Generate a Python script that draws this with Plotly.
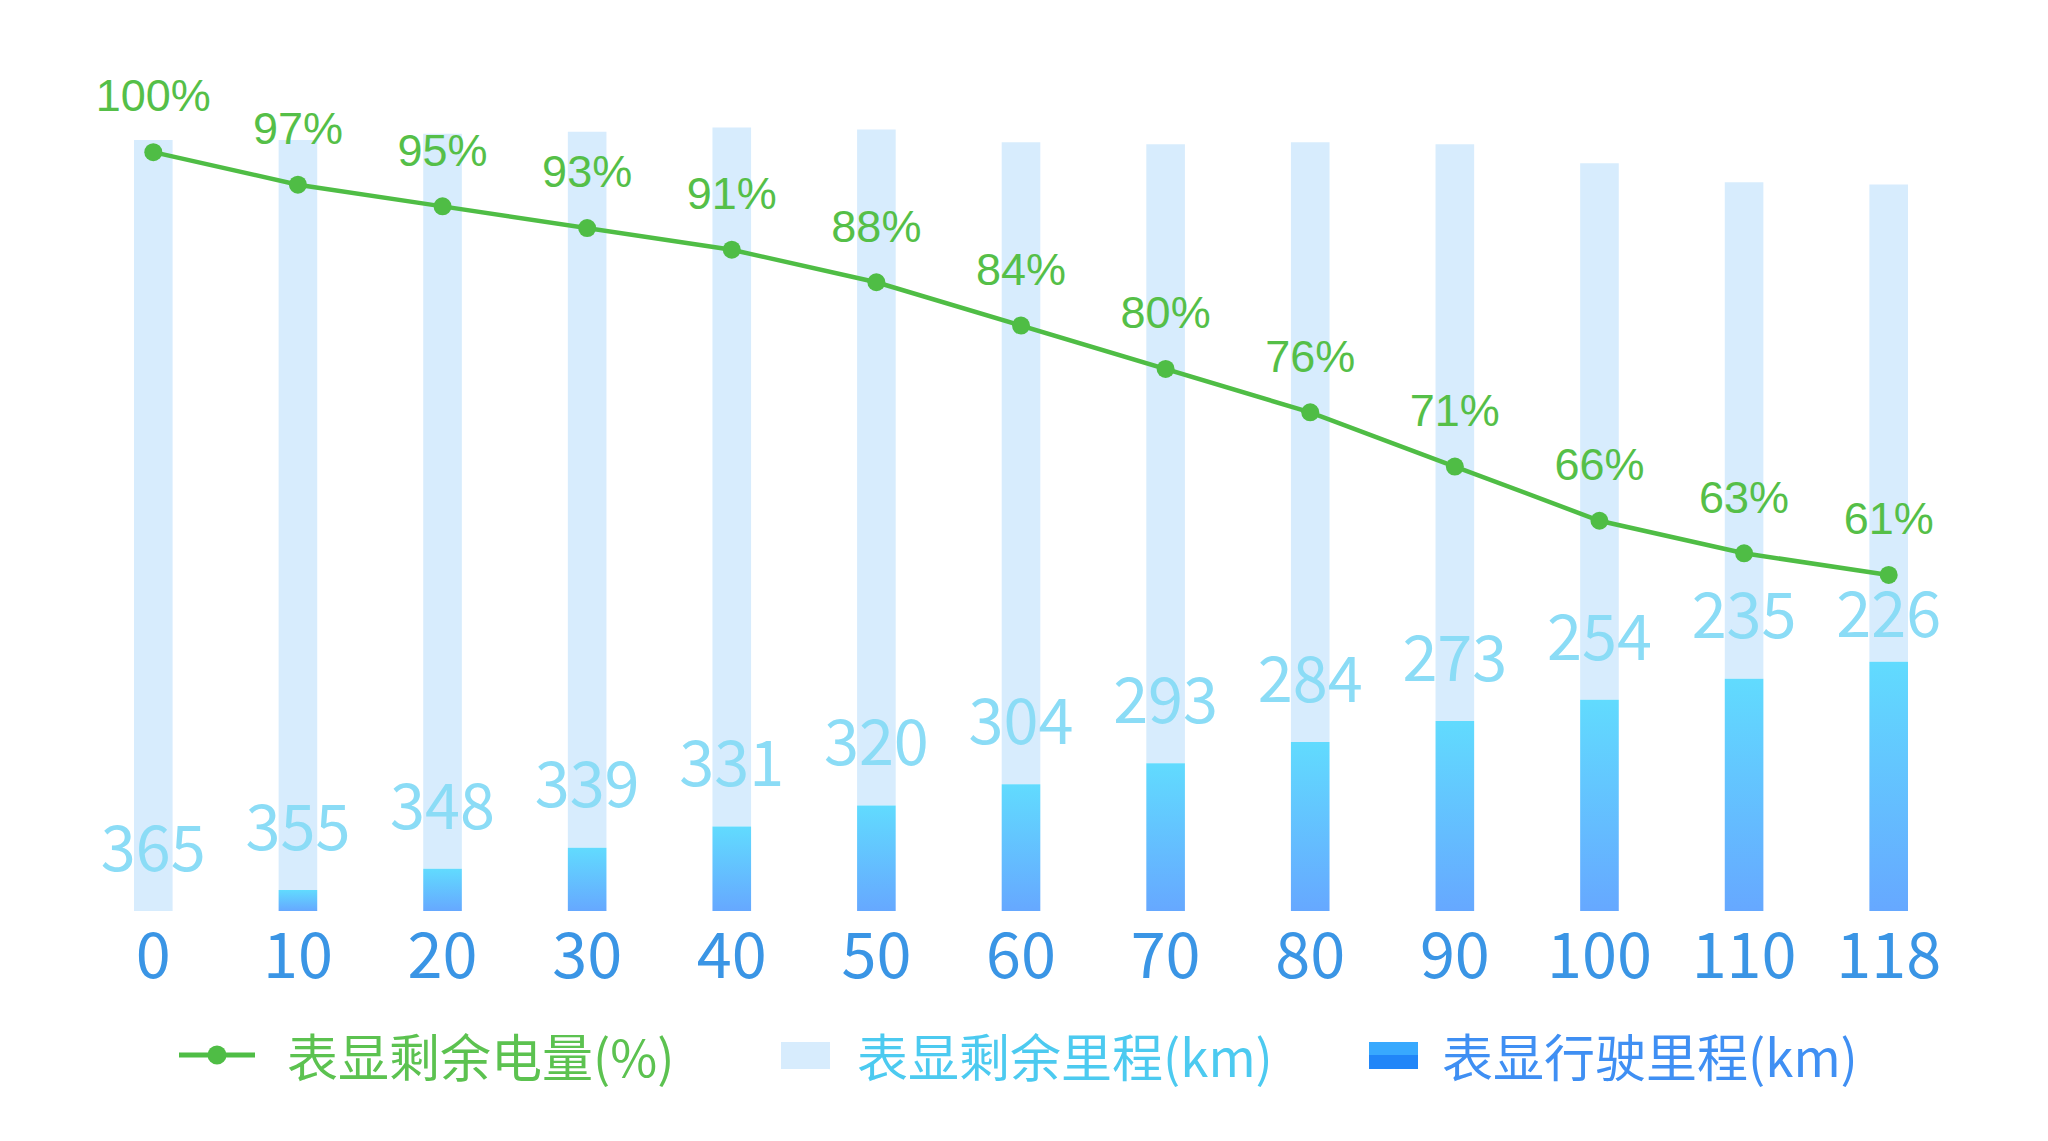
import plotly.graph_objects as go

# ---------------- data ----------------
categories = ["0", "10", "20", "30", "40", "50", "60", "70", "80", "90", "100", "110", "118"]
battery_pct = [100, 97, 95, 93, 91, 88, 84, 80, 76, 71, 66, 63, 61]
remaining_km = [365, 355, 348, 339, 331, 320, 304, 293, 284, 273, 254, 235, 226]
driven_km = [0, 10, 20, 30, 40, 50, 60, 70, 80, 90, 100, 110, 118]

series_names = ["表显剩余电量(%)", "表显剩余里程(km)", "表显行驶里程(km)"]

# ---------------- layout geometry ----------------
W, H = 2048, 1141
ML, MR, MT, MB = 73, 95, 53, 238
plot_w = W - ML - MR
plot_h = H - MT - MB
Y_MAX = 402.46
Y2_MIN, Y2_MAX = 30, 108.41
km_px = plot_h / Y_MAX
pct_px = plot_h / (Y2_MAX - Y2_MIN)
BAR_W = 0.267

GREEN = "#4fbd45"
GREEN_TXT = "#55bf48"
LIGHT = "#d7ecfd"
CYAN_TXT = "#8bdcf6"
TICK_BLUE = "#3a95e5"
CJK = "Noto Sans CJK SC"

idx = list(range(len(categories)))

fig = go.Figure()

# light (remaining) bars stacked on top of driven distance
fig.add_trace(go.Bar(
    x=idx, y=remaining_km, base=driven_km, width=BAR_W,
    marker=dict(color=LIGHT, line=dict(width=0)),
    name=series_names[1], showlegend=False, hoverinfo="skip",
))

# driven bars with vertical gradient
for i, d in zip(idx, driven_km):
    if d <= 0:
        continue
    x0, x1 = i - BAR_W / 2, i + BAR_W / 2
    fig.add_trace(go.Scatter(
        x=[x0, x1, x1, x0, x0], y=[0, 0, d, d, 0],
        mode="lines", fill="toself", line=dict(width=0, color="rgba(0,0,0,0)"),
        fillgradient=dict(type="vertical", start=0, stop=d,
                          colorscale=[[0, "#66a8ff"], [1, "#61dbfe"]]),
        name=series_names[2], showlegend=False, hoverinfo="skip",
    ))

# remaining-range labels (kept below the battery line marker)
label_y = []
for d, p in zip(driven_km, battery_pct):
    a = d + 56 / km_px
    b = ((p - Y2_MIN) * pct_px - 46) / km_px
    label_y.append(min(a, b))
fig.add_trace(go.Scatter(
    x=idx, y=label_y, mode="text", text=[str(v) for v in remaining_km],
    textposition="middle center",
    textfont=dict(family=CJK, size=63, color=CYAN_TXT),
    showlegend=False, hoverinfo="skip",
))

# battery line
fig.add_trace(go.Scatter(
    x=idx, y=battery_pct, yaxis="y2", mode="lines+markers",
    line=dict(color=GREEN, width=4.5),
    marker=dict(color=GREEN, size=18),
    name=series_names[0], showlegend=False, hoverinfo="skip",
))
fig.add_trace(go.Scatter(
    x=idx, y=[p + 52 / pct_px for p in battery_pct], yaxis="y2", mode="text",
    text=[f"{p}%" for p in battery_pct], textposition="middle center",
    textfont=dict(family="Liberation Sans", size=45, color=GREEN_TXT),
    showlegend=False, hoverinfo="skip",
))

# ---------------- custom legend ----------------
def xp(px):
    return (px - ML) / plot_w


def yp(py):
    return (H - MB - py) / plot_h


LEG_Y = 1047
shapes = [
    dict(type="line", xref="paper", yref="paper", x0=xp(171), x1=xp(247),
         y0=yp(LEG_Y), y1=yp(LEG_Y), line=dict(color=GREEN, width=5)),
    dict(type="circle", xref="paper", yref="paper", x0=xp(209 - 9.5), x1=xp(209 + 9.5),
         y0=yp(LEG_Y - 9.5), y1=yp(LEG_Y + 9.5), fillcolor=GREEN, line=dict(width=0)),
    dict(type="rect", xref="paper", yref="paper", x0=xp(773), x1=xp(822),
         y0=yp(LEG_Y - 13), y1=yp(LEG_Y + 14), fillcolor=LIGHT, line=dict(width=0)),
    dict(type="rect", xref="paper", yref="paper", x0=xp(1361), x1=xp(1410),
         y0=yp(LEG_Y - 13), y1=yp(LEG_Y), fillcolor="#38a9fe", line=dict(width=0)),
    dict(type="rect", xref="paper", yref="paper", x0=xp(1361), x1=xp(1410),
         y0=yp(LEG_Y), y1=yp(LEG_Y + 14), fillcolor="#2186f8", line=dict(width=0)),
]
leg_text = [(277, series_names[0], "#5cc250"),
            (847, series_names[1], "#4ccaf0"),
            (1432, series_names[2], "#3f8ff3")]
annotations = [
    dict(xref="paper", yref="paper", x=xp(x), y=yp(LEG_Y), xanchor="left", yanchor="middle",
         text=t, showarrow=False, font=dict(family=CJK, size=51, color=c))
    for x, t, c in leg_text
]

fig.update_layout(
    width=W, height=H,
    margin=dict(l=ML, r=MR, t=MT, b=MB, pad=0),
    paper_bgcolor="white", plot_bgcolor="white",
    showlegend=False, barmode="overlay",
    xaxis=dict(range=[-0.5, len(categories) - 0.5], tickmode="array", tickvals=idx,
               ticktext=categories, showgrid=False, zeroline=False, showline=False,
               ticks="", ticklabelstandoff=3,
               tickfont=dict(family=CJK, size=63, color=TICK_BLUE)),
    yaxis=dict(range=[0, Y_MAX], visible=False, showgrid=False, zeroline=False),
    yaxis2=dict(range=[Y2_MIN, Y2_MAX], overlaying="y", side="right", visible=False,
                showgrid=False, zeroline=False),
    shapes=shapes, annotations=annotations,
)

fig.write_html("out.html")
